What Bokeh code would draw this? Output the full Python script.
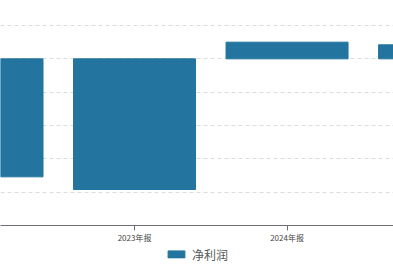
from bokeh.plotting import figure
from bokeh.layouts import column
from bokeh.models import Range1d, FixedTicker, SingleIntervalTicker, Legend, LegendItem, ColumnDataSource
from bokeh.embed import file_html
from bokeh.resources import INLINE

categories = ["2022年报", "2023年报", "2024年报", "2025年报"]
net_profit = [-3.54, -3.92, 0.50, 0.42]
series_name = "净利润"
bar_color = "#23759F"

idx = list(range(len(categories)))
src = ColumnDataSource(dict(x=idx, y=net_profit, cat=categories))

FONT = "Noto Sans CJK SC"
p = figure(width=393, height=245, output_backend="svg", toolbar_location=None,
           x_range=Range1d(0.1213, 2.698), y_range=Range1d(-5, 1.75),
           min_border_left=0, min_border_right=0, min_border_top=0, min_border_bottom=0)
p.outline_line_color = None

r = p.vbar(x="x", top="y", bottom=0, width=0.8, source=src, fill_color=bar_color, line_color=bar_color)

p.yaxis.visible = False
p.yaxis.ticker = SingleIntervalTicker(interval=1)
p.ygrid.ticker = SingleIntervalTicker(interval=1)
p.ygrid.grid_line_color = "#dcdcdc"
p.ygrid.grid_line_dash = "4 3"
p.xgrid.visible = False

xa = p.xaxis[0]
xa.ticker = FixedTicker(ticks=idx)
xa.major_label_overrides = {i: c for i, c in zip(idx, categories)}
xa.axis_line_color = "#6e7079"
xa.major_tick_line_color = "#6e7079"
xa.major_tick_out = 5
xa.major_tick_in = 0
xa.minor_tick_out = 0
xa.minor_tick_in = 0
xa.major_label_standoff = 1
xa.major_label_text_font_size = "8px"
xa.major_label_text_color = "#444444"
xa.major_label_text_font = FONT

# legend strip below the chart (its renderer reuses the same data, out of view)
p2 = figure(width=393, height=17, output_backend="svg", toolbar_location=None,
            x_range=Range1d(100, 101), y_range=Range1d(100, 101),
            min_border_left=0, min_border_right=0, min_border_top=0, min_border_bottom=0)
p2.axis.visible = False
p2.grid.visible = False
p2.outline_line_color = None
r2 = p2.vbar(x="x", top="y", bottom=0, width=0.8, source=src, fill_color=bar_color, line_color=bar_color)
legend = Legend(items=[LegendItem(label=series_name, renderers=[r2])],
                orientation="horizontal", location="center",
                label_text_font=FONT, label_text_font_size="12px", label_text_color="#555555",
                glyph_width=21, glyph_height=9, label_height=12, label_standoff=6,
                border_line_alpha=0, background_fill_alpha=0, padding=1, margin=0)
p2.add_layout(legend, "center")

layout = column(p, p2, spacing=0)
open("out.html", "w").write(file_html(layout, INLINE))
